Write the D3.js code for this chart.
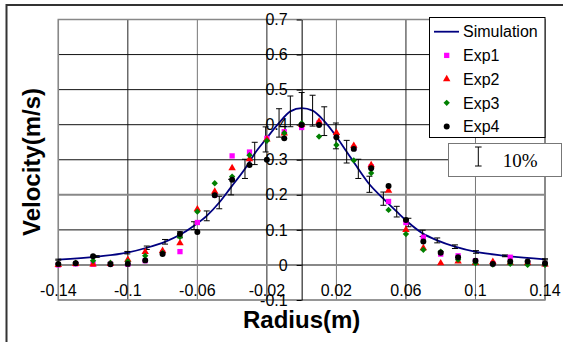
<!DOCTYPE html>
<html>
<head>
<meta charset="utf-8">
<script src="https://cdn.jsdelivr.net/npm/d3@7"></script>
<style>
  body { margin: 0; background: #fff; }
  text { font-family: Arial, "Liberation Sans", sans-serif; }
</style>
</head>
<body>
<div id="chart"></div>
<script>
// radius positions of the measurements (m)
const radius = [-0.14, -0.13, -0.12, -0.11, -0.1, -0.09, -0.08, -0.07, -0.06, -0.05, -0.04, -0.03, -0.02, -0.01, 0,
  0.01, 0.02, 0.03, 0.04, 0.05, 0.06, 0.07, 0.08, 0.09, 0.1, 0.11, 0.12, 0.13, 0.14];

const exp1 = [0.0, 0.003, 0.002, 0.003, 0.002, 0.012, 0.035, 0.038, 0.121, 0.200, 0.311, 0.322, 0.361, 0.380, 0.392,
  0.405, 0.368, 0.333, 0.280, 0.181, 0.121, 0.079, 0.031, 0.026, 0.012, 0.004, 0.022, 0.005, 0.002];
const exp2 = [0.0, 0.003, 0.002, 0.003, 0.015, 0.037, 0.040, 0.062, 0.159, 0.209, 0.276, 0.302, 0.358, 0.375, 0.400,
  0.409, 0.377, 0.340, 0.285, 0.212, 0.100, 0.048, 0.005, 0.010, 0.006, 0.009, 0.006, 0.006, 0.002];
const exp3 = [0.003, 0.006, 0.012, 0.006, 0.010, 0.026, 0.034, 0.080, 0.152, 0.233, 0.252, 0.313, 0.354, 0.376, 0.404,
  0.366, 0.342, 0.298, 0.262, 0.157, 0.088, 0.043, 0.038, 0.015, 0.005, 0.001, 0.003, 0.0, 0.0];
const exp4 = [0.003, 0.005, 0.025, 0.002, 0.003, 0.013, 0.031, 0.088, 0.094, 0.199, 0.243, 0.285, 0.300, 0.361, 0.399,
  0.399, 0.364, 0.331, 0.276, 0.225, 0.128, 0.067, 0.035, 0.022, 0.012, 0.003, 0.010, 0.010, 0.005];

// simulation curve (nodes carry the 10% error bars)
const simR = [-0.14, -0.1179, -0.1003, -0.0891, -0.0786, -0.07, -0.0619, -0.0546, -0.0474, -0.0406, -0.0326, -0.027,
  -0.0207, -0.013, -0.0065, 0, 0.0063, 0.013, 0.0197, 0.0259, 0.0326, 0.039, 0.047, 0.0547, 0.0614, 0.0696, 0.078,
  0.0882, 0.1003, 0.117, 0.14];
const simV = [0.015, 0.024, 0.035, 0.049, 0.066, 0.086, 0.112, 0.140, 0.178, 0.222, 0.274, 0.318,
  0.358, 0.405, 0.438, 0.447, 0.440, 0.410, 0.368, 0.323, 0.274, 0.230, 0.189, 0.152, 0.121, 0.090, 0.070,
  0.052, 0.037, 0.026, 0.016];

const xTicks = [-0.14, -0.1, -0.06, -0.02, 0.02, 0.06, 0.1, 0.14];
const yTicks = [-0.1, 0, 0.1, 0.2, 0.3, 0.4, 0.5, 0.6, 0.7];
const errorPct = 0.1;

const width = 563, height = 342;
const plot = { left: 58.3, right: 545, top: 19.5, bottom: 300 };

const svg = d3.select('#chart').append('svg')
  .attr('width', width)
  .attr('height', height);

// outer frame
svg.append('rect')
  .attr('x', 6.5).attr('y', 5)
  .attr('width', 700).attr('height', 500)
  .attr('fill', 'none')
  .attr('stroke', '#333')
  .attr('stroke-width', 2);

const x = d3.scaleLinear().domain([-0.14, 0.14]).range([plot.left, plot.right]);
const y = d3.scaleLinear().domain([-0.1, 0.7]).range([plot.bottom, plot.top]);

// plain hyphen minus like the original
const fmt = d => String(+d.toFixed(2));

// grid
svg.append('g')
  .selectAll('line')
  .data(xTicks)
  .join('line')
  .attr('x1', d => x(d)).attr('x2', d => x(d))
  .attr('y1', plot.top).attr('y2', plot.bottom)
  .attr('stroke', (d, i) => (i % 2 ? '#222' : '#777'))
  .attr('stroke-width', 1);

svg.append('g')
  .selectAll('line')
  .data(yTicks)
  .join('line')
  .attr('x1', plot.left).attr('x2', plot.right)
  .attr('y1', d => y(d)).attr('y2', d => y(d))
  .attr('stroke', d => (Math.abs(d - 0.2) < 1e-9 || d === 0 || d === -0.1 || d === 0.7 ? '#888' : '#111'))
  .attr('stroke-width', d => (Math.abs(d - 0.2) < 1e-9 || d === 0 ? 2 : 1));

svg.append('rect')
  .attr('x', plot.left).attr('y', plot.top)
  .attr('width', plot.right - plot.left).attr('height', plot.bottom - plot.top)
  .attr('fill', 'none')
  .attr('stroke', '#888')
  .attr('stroke-width', 1.5);

// y axis through x = 0
const yAxis = svg.append('g')
  .attr('transform', `translate(${x(0)},0)`)
  .call(d3.axisLeft(y).tickValues(yTicks).tickSize(5).tickSizeOuter(0).tickFormat(fmt));
yAxis.select('.domain').attr('stroke', '#000');
yAxis.selectAll('.tick text')
  .attr('x', -14)
  .style('font-size', '16px')
  .attr('fill', '#000');

// x tick labels
svg.append('g')
  .selectAll('text')
  .data(xTicks)
  .join('text')
  .attr('x', d => x(d))
  .attr('y', 295.5)
  .attr('text-anchor', 'middle')
  .style('font-size', '16px')
  .text(fmt);

// axis titles
svg.append('text')
  .attr('transform', `translate(40,162) rotate(-90)`)
  .attr('text-anchor', 'middle')
  .style('font-size', '24px')
  .style('font-weight', 'bold')
  .text('Velocity(m/s)');

svg.append('text')
  .attr('x', x(0))
  .attr('y', 328)
  .attr('text-anchor', 'middle')
  .style('font-size', '24px')
  .style('font-weight', 'bold')
  .text('Radius(m)');

// simulation line
const sim = simR.map((r, i) => ({ r: r, v: simV[i] }));

svg.append('path')
  .datum(sim)
  .attr('fill', 'none')
  .attr('stroke', '#000080')
  .attr('stroke-width', 1.8)
  .attr('d', d3.line().x(d => x(d.r)).y(d => y(d.v)).curve(d3.curveMonotoneX));

// 10% error bars
const bars = svg.append('g').attr('stroke', '#000').attr('stroke-width', 1);
sim.forEach(d => {
  const lo = y(d.v * (1 - errorPct)), hi = y(d.v * (1 + errorPct)), cx = x(d.r);
  bars.append('line').attr('x1', cx).attr('x2', cx).attr('y1', lo).attr('y2', hi);
  bars.append('line').attr('x1', cx - 3).attr('x2', cx + 3).attr('y1', lo).attr('y2', lo);
  bars.append('line').attr('x1', cx - 3).attr('x2', cx + 3).attr('y1', hi).attr('y2', hi);
});

// experiment series
const series = [
  { name: 'Exp1', values: exp1, color: '#ff00ff', symbol: d3.symbolSquare, size: 28, rot: 0 },
  { name: 'Exp2', values: exp2, color: '#ff0000', symbol: d3.symbolTriangle, size: 24, rot: 0 },
  { name: 'Exp3', values: exp3, color: '#008000', symbol: d3.symbolSquare, size: 20, rot: 45 },
  { name: 'Exp4', values: exp4, color: '#000000', symbol: d3.symbolCircle, size: 28, rot: 0 }
];

series.forEach(s => {
  svg.append('g')
    .selectAll('path')
    .data(s.values)
    .join('path')
    .attr('transform', (v, i) => `translate(${x(radius[i])},${y(v)}) rotate(${s.rot})`)
    .attr('d', d3.symbol().type(s.symbol).size(s.size))
    .attr('fill', s.color);
});

// legend
const legend = svg.append('g');
legend.append('rect')
  .attr('x', 429.5).attr('y', 17.5)
  .attr('width', 115.5).attr('height', 120)
  .attr('fill', '#fff')
  .attr('stroke', '#000')
  .attr('stroke-width', 1);

const rowY = [31.7, 55.4, 79.1, 102.8, 126.5];
legend.append('line')
  .attr('x1', 434).attr('x2', 459)
  .attr('y1', rowY[0]).attr('y2', rowY[0])
  .attr('stroke', '#000080').attr('stroke-width', 1.8);
legend.append('text')
  .attr('x', 463).attr('y', rowY[0] + 5.7)
  .style('font-size', '16px')
  .text('Simulation');

series.forEach((s, i) => {
  legend.append('path')
    .attr('transform', `translate(446.7,${rowY[i + 1]}) rotate(${s.rot})`)
    .attr('d', d3.symbol().type(s.symbol).size(s.size))
    .attr('fill', s.color);
  legend.append('text')
    .attr('x', 463).attr('y', rowY[i + 1] + 5.7)
    .style('font-size', '16px')
    .text(s.name);
});

// error bar key
const key = svg.append('g');
key.append('rect')
  .attr('x', 448.5).attr('y', 143.5)
  .attr('width', 113).attr('height', 33)
  .attr('fill', '#fff')
  .attr('stroke', '#777')
  .attr('stroke-width', 1);
key.append('line').attr('x1', 478.3).attr('x2', 478.3).attr('y1', 147).attr('y2', 166).attr('stroke', '#000');
key.append('line').attr('x1', 475).attr('x2', 481.6).attr('y1', 147).attr('y2', 147).attr('stroke', '#000');
key.append('line').attr('x1', 475).attr('x2', 481.6).attr('y1', 166).attr('y2', 166).attr('stroke', '#000');
key.append('text')
  .attr('x', 502.7).attr('y', 166.5)
  .style('font-family', '"Liberation Serif", "Times New Roman", serif')
  .style('font-size', '19px')
  .text('10%');
</script>
</body>
</html>
